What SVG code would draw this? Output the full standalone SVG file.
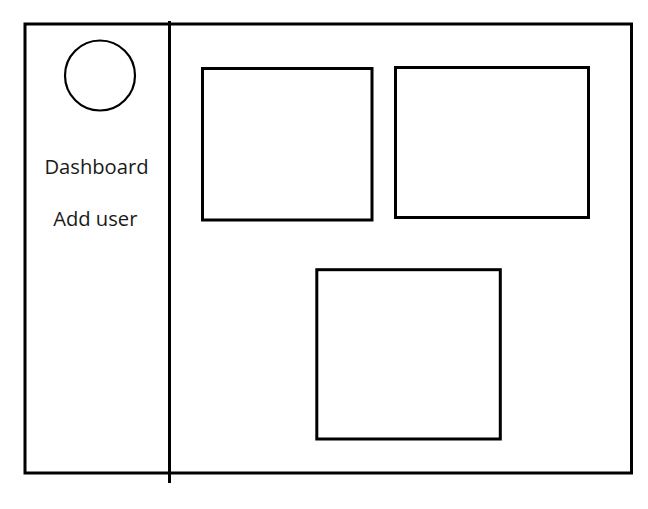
<svg xmlns="http://www.w3.org/2000/svg" width="648" height="509" viewBox="0 0 648 509">
<style>
.s{fill:none;stroke:#000;stroke-width:3}
.t{font-family:"Open Sans","Noto Sans",sans-serif;font-size:20.2px;fill:#1a1a1a;text-anchor:middle}
</style>
<rect width="648" height="509" fill="#fff"/>
<g id="frame">
<rect class="s" x="25" y="24" width="606.5" height="449"/>
</g>
<g id="sidebar-divider">
<line class="s" x1="169.5" y1="21" x2="169.5" y2="483" stroke-width="2.8"/>
</g>
<g id="avatar">
<circle cx="100" cy="75.5" r="35" fill="none" stroke="#000" stroke-width="2.2"/>
</g>
<g id="menu">
<text class="t" x="96.5" y="174.3">Dashboard</text>
<text class="t" x="95.3" y="226">Add user</text>
</g>
<g id="card1"><rect class="s" x="202.5" y="68.5" width="169.5" height="151.5"/></g>
<g id="card2"><rect class="s" x="395.5" y="67.5" width="193" height="150"/></g>
<g id="card3"><rect class="s" x="316.8" y="269.7" width="183.5" height="169.3"/></g>
<g id="connectors"/>
</svg>
